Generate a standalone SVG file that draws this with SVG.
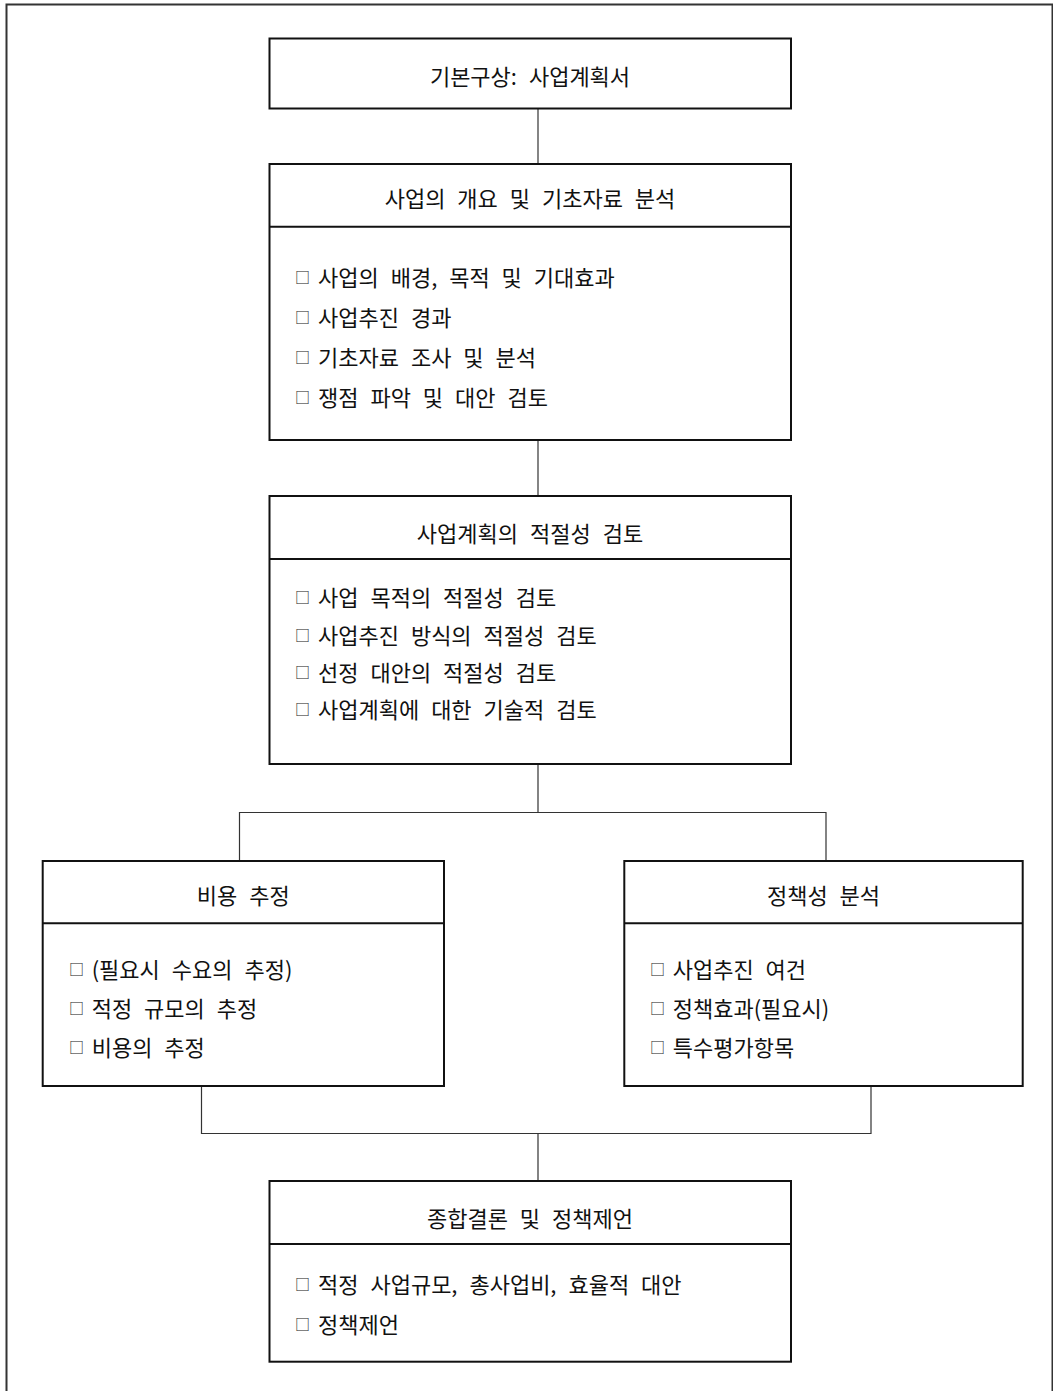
<svg xmlns="http://www.w3.org/2000/svg" width="1053" height="1391" viewBox="0 0 1053 1391">
<style>
.frame{fill:none;stroke:#333;stroke-width:2}
.box{fill:#fff;stroke:#111;stroke-width:2}
.div{stroke:#111;stroke-width:2}
.conn{fill:none;stroke:#333;stroke-width:1.2}
text{font-family:"Noto Sans CJK KR","Noto Sans CJK SC",sans-serif;font-size:22px;fill:#111;dominant-baseline:central;word-spacing:7px}
.h{text-anchor:middle}
.cb{font-size:15px;fill:#222}
</style>
<rect width="1053" height="1391" fill="#fff"/>
<rect class="frame" x="6.5" y="4.5" width="1046" height="1400"/>
<g id="connectors">
<path class="conn" d="M538,108 V164"/>
<path class="conn" d="M538,440 V496"/>
<path class="conn" d="M538,764 V812.5 M239.5,861 V812.5 H826 V861"/>
<path class="conn" d="M201.5,1086 V1133.5 H871 V1086 M538,1133.5 V1181"/>
</g>
<g id="n1">
<rect class="box" x="269.5" y="38.5" width="521.5" height="70"/>
<text class="h" x="530" y="75">기본구상: 사업계획서</text>
</g>
<g id="n2">
<rect class="box" x="269.5" y="164" width="521.5" height="276"/>
<line class="div" x1="269.5" y1="226.7" x2="791" y2="226.7"/>
<text class="h" x="530" y="197">사업의 개요 및 기초자료 분석</text>
<text x="295" y="276"><tspan class="cb">□</tspan><tspan x="318">사업의 배경, 목적 및 기대효과</tspan></text>
<text x="295" y="316"><tspan class="cb">□</tspan><tspan x="318">사업추진 경과</tspan></text>
<text x="295" y="356"><tspan class="cb">□</tspan><tspan x="318">기초자료 조사 및 분석</tspan></text>
<text x="295" y="395.5"><tspan class="cb">□</tspan><tspan x="318">쟁점 파악 및 대안 검토</tspan></text>
</g>
<g id="n3">
<rect class="box" x="269.5" y="496" width="521.5" height="268"/>
<line class="div" x1="269.5" y1="559" x2="791" y2="559"/>
<text class="h" x="530" y="531.5">사업계획의 적절성 검토</text>
<text x="295" y="596"><tspan class="cb">□</tspan><tspan x="318">사업 목적의 적절성 검토</tspan></text>
<text x="295" y="633.5"><tspan class="cb">□</tspan><tspan x="318">사업추진 방식의 적절성 검토</tspan></text>
<text x="295" y="671"><tspan class="cb">□</tspan><tspan x="318">선정 대안의 적절성 검토</tspan></text>
<text x="295" y="708"><tspan class="cb">□</tspan><tspan x="318">사업계획에 대한 기술적 검토</tspan></text>
</g>
<g id="n4">
<rect class="box" x="42.7" y="861" width="401.3" height="225"/>
<line class="div" x1="42.7" y1="923.3" x2="444" y2="923.3"/>
<text class="h" x="243.3" y="894">비용 추정</text>
<text x="69" y="968"><tspan class="cb">□</tspan><tspan x="91.7">(필요시 수요의 추정)</tspan></text>
<text x="69" y="1007"><tspan class="cb">□</tspan><tspan x="91.7">적정 규모의 추정</tspan></text>
<text x="69" y="1045.5"><tspan class="cb">□</tspan><tspan x="91.7">비용의 추정</tspan></text>
</g>
<g id="n5">
<rect class="box" x="624.3" y="861" width="398.4" height="225"/>
<line class="div" x1="624.3" y1="923.3" x2="1022.7" y2="923.3"/>
<text class="h" x="823.5" y="894">정책성 분석</text>
<text x="650" y="968"><tspan class="cb">□</tspan><tspan x="672.7">사업추진 여건</tspan></text>
<text x="650" y="1007"><tspan class="cb">□</tspan><tspan x="672.7">정책효과(필요시)</tspan></text>
<text x="650" y="1045.5"><tspan class="cb">□</tspan><tspan x="672.7">특수평가항목</tspan></text>
</g>
<g id="n6">
<rect class="box" x="269.5" y="1181" width="521.5" height="180.7"/>
<line class="div" x1="269.5" y1="1244" x2="791" y2="1244"/>
<text class="h" x="530" y="1216.5">종합결론 및 정책제언</text>
<text x="295" y="1283"><tspan class="cb">□</tspan><tspan x="318">적정 사업규모, 총사업비, 효율적 대안</tspan></text>
<text x="295" y="1322.5"><tspan class="cb">□</tspan><tspan x="318">정책제언</tspan></text>
</g>
</svg>
